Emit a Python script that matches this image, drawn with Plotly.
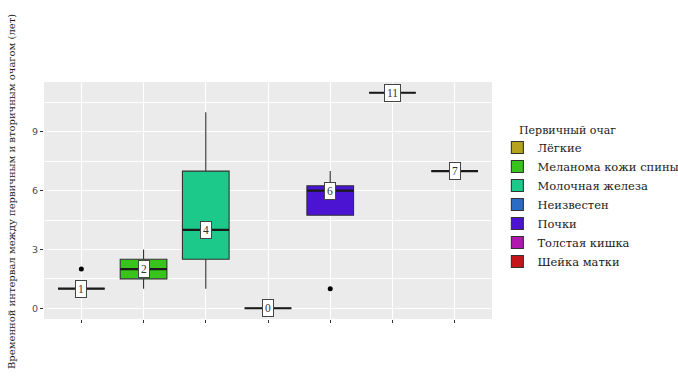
import numpy as np
import plotly.graph_objects as go

# Primary tumour site (legend order = x order)
sites = ["Лёгкие", "Меланома кожи спины", "Молочная железа", "Неизвестен",
         "Почки", "Толстая кишка", "Шейка матки"]
colors = ["#B5A31F", "#38C41C", "#1CC98A", "#2A6CC4", "#4A14D2", "#B018AE", "#C4161A"]

# Interval between primary and secondary focus, years, per patient
intervals = [
    [1, 1, 1, 1, 2],
    [1, 2, 3],
    [1, 4, 10],
    [0],
    [1, 6, 6, 7],
    [11],
    [7],
]

y_title = "Временной интервал между первичным и вторичным очагом (лет)"
legend_title = "Первичный очаг"
y_ticks = [0, 3, 6, 9]

BOX_W = 0.75
OUTLINE = "#333333"
SERIF = "DejaVu Serif"


def box_stats(values):
    v = np.asarray(values, dtype=float)
    q1, med, q3 = np.percentile(v, [25, 50, 75])
    iqr = q3 - q1
    lo_lim, hi_lim = q1 - 1.5 * iqr, q3 + 1.5 * iqr
    inside = v[(v >= lo_lim) & (v <= hi_lim)]
    lo = min(inside.min(), q1)
    hi = max(inside.max(), q3)
    out = v[(v < lo_lim) | (v > hi_lim)]
    return q1, med, q3, lo, hi, out


fig = go.Figure()

for i, (site, col, vals) in enumerate(zip(sites, colors, intervals), start=1):
    q1, med, q3, lo, hi, out = box_stats(vals)
    fig.add_trace(go.Box(
        x=[i], q1=[q1], median=[med], q3=[q3], lowerfence=[lo], upperfence=[hi],
        name=site, width=BOX_W, whiskerwidth=0, fillcolor=col,
        line=dict(color=OUTLINE, width=1.1), boxpoints=False, showlegend=True,
    ))
    # heavier median bar
    fig.add_trace(go.Scatter(
        x=[i - BOX_W / 2, i + BOX_W / 2], y=[med, med], mode="lines",
        line=dict(color="#1A1A1A", width=2.2), showlegend=False, hoverinfo="skip",
    ))
    if len(out):
        fig.add_trace(go.Scatter(
            x=[i] * len(out), y=out, mode="markers",
            marker=dict(color="black", size=5), showlegend=False, hoverinfo="skip",
        ))
    fig.add_annotation(
        x=i, y=med, text=f"{med:g}", showarrow=False,
        font=dict(family="Liberation Serif", size=11.5, color="#333333"),
        bgcolor="white", bordercolor="#444444", borderwidth=1, borderpad=2,
    )

# axis title and legend heading
fig.add_annotation(
    xref="paper", yref="paper", x=-0.0714, y=0.536, textangle=-90,
    text=y_title, showarrow=False, xanchor="center", yanchor="middle",
    font=dict(family=SERIF, size=10, color="#1A1A1A"),
)
fig.add_annotation(
    xref="paper", yref="paper", x=1.0558, y=0.797, text=legend_title,
    showarrow=False, xanchor="left", yanchor="middle",
    font=dict(family=SERIF, size=11, color="#1A1A1A"),
)

fig.update_layout(
    width=678, height=381,
    margin=dict(l=44, r=186, t=82, b=62, autoexpand=False),
    paper_bgcolor="white", plot_bgcolor="#EBEBEB",
    font=dict(family=SERIF, color="#1A1A1A"),
    legend=dict(
        font=dict(family=SERIF, size=11.5, color="#1A1A1A"),
        x=1.012, xanchor="left", y=0.785, yanchor="top",
        tracegroupgap=0, itemwidth=30,
    ),
    xaxis=dict(
        range=[0.4, 7.6], tickvals=list(range(1, 8)), ticktext=[""] * 7,
        showgrid=True, gridcolor="white", gridwidth=1.2,
        ticks="outside", ticklen=3, tickcolor="#333333", zeroline=False,
    ),
    yaxis=dict(
        range=[-0.55, 11.55], tickvals=y_ticks,
        showgrid=True, gridcolor="white", gridwidth=1.2,
        minor=dict(tick0=1.5, dtick=3, showgrid=True, gridcolor="white", gridwidth=0.6),
        ticks="outside", ticklen=3, tickcolor="#333333", zeroline=False,
        tickfont=dict(family="DejaVu Sans", size=9.5, color="#4D4D4D"),
    ),
)

fig.write_html("out.html")
